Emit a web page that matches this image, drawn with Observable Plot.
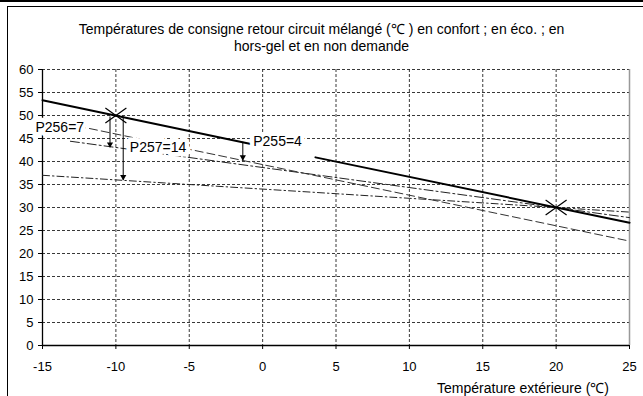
<!DOCTYPE html>
<html><head><meta charset="utf-8">
<script src="https://cdn.jsdelivr.net/npm/d3@7"></script>
<script src="https://cdn.jsdelivr.net/npm/@observablehq/plot@0.6"></script>
<style>
body{margin:0;background:#fff;}
#wrap{position:relative;width:643px;height:396px;overflow:hidden;font-family:"Liberation Sans",Arial,sans-serif;color:#000;}
#topline{position:absolute;left:0;top:0;width:643px;height:0;border-top:2px solid #000;z-index:5;}
#frame{position:absolute;left:7px;top:6px;width:660px;height:420px;border-left:1.5px solid #000;border-top:1px solid #000;z-index:5;}
#title{position:absolute;left:0;top:21px;width:643px;text-align:center;font-size:14px;line-height:17px;}
#chart{position:absolute;left:0;top:55px;}
#xlabel{position:absolute;right:34px;top:380px;font-size:14px;line-height:16px;}
</style>
</head><body>
<div id="wrap">
  <div id="topline"></div>
  <div id="title">Températures de consigne retour circuit mélangé (℃ ) en confort ; en éco. ; en<br>hors-gel et en non demande</div>
  <div id="chart"></div>
  <div id="xlabel">Température extérieure (℃)</div>
  <div id="frame"></div>
</div>
<script>
// Tick values
const xTicks = [-15, -10, -5, 0, 5, 10, 15, 20, 25];
const yTicks = [0, 5, 10, 15, 20, 25, 30, 35, 40, 45, 50, 55, 60];

// Confort curve (solid), two visible segments
const confortSeg = [0, 0, 1, 1];
const confortX = [-15, -0.8, 3.6, 25];
const confortY = [53.3, 43.8, 40.9, 26.7];

// Confort - P255 (dashed)
const reduitX = [-15, 25];
const reduitY = [49.3, 22.7];

// Eco (dash-dot)
const ecoX = [-13.1, 25];
const ecoY = [44.4, 27.8];

// Hors-gel (dash-dot)
const horsGelX = [-15, 25];
const horsGelY = [37, 29];

// Reference points (crosses)
const pointX = [-10, 20];
const pointY = [50, 30];

// Arrows
const arrowX = [-10.4, -9.5, -1.35];
const arrowY1 = [49.8, 49.8, 44.3];
const arrowY2 = [43.1, 36.0, 40.3];

// Labels
const labelText = ["P256=7", "P257=14", "P255=4"];
const labelX = [-15.48, -9.05, -0.64];
const labelY = [47.4, 42.98, 44.41];

const confort = confortX.map((x, i) => ({x, y: confortY[i], s: confortSeg[i]}));
const reduit = reduitX.map((x, i) => ({x, y: reduitY[i]}));
const eco = ecoX.map((x, i) => ({x, y: ecoY[i]}));
const horsGel = horsGelX.map((x, i) => ({x, y: horsGelY[i]}));
const points = pointX.map((x, i) => ({x, y: pointY[i]}));
const arrows = arrowX.map((x, i) => ({x, y1: arrowY1[i], y2: arrowY2[i]}));
const labels = labelText.map((t, i) => ({t, x: labelX[i], y: labelY[i]}));

const wideX = {
  draw(ctx, size) {
    const r = Math.sqrt(size / Math.PI);
    const h = r * 0.72;
    ctx.moveTo(-r, -h); ctx.lineTo(r, h);
    ctx.moveTo(-r, h); ctx.lineTo(r, -h);
  }
};

const gridStyle = {stroke: "#222", strokeOpacity: 1, strokeWidth: 0.9, strokeDasharray: "3,2"};
const fmt = d => String(d);

const chart = Plot.plot({
  width: 643,
  height: 321,
  marginLeft: 42,
  marginRight: 14,
  marginTop: 14,
  marginBottom: 31,
  style: {fontFamily: "Liberation Sans, Arial, sans-serif", fontSize: "13px", background: "transparent", color: "#000"},
  x: {domain: [-15, 25]},
  y: {domain: [0, 60]},
  marks: [
    Plot.gridY(yTicks.filter(v => v > 0), gridStyle),
    Plot.gridX(xTicks.filter(v => v > -15 && v < 25), gridStyle),
    Plot.ruleX([25], {stroke: "#999", strokeWidth: 1.5}),
    Plot.ruleX([-15], {stroke: "#000", strokeWidth: 1.3}),
    Plot.ruleY([0], {stroke: "#000", strokeWidth: 1.3}),
    Plot.line(horsGel, {x: "x", y: "y", stroke: "#222", strokeWidth: 1, strokeDasharray: "7,3,1.5,3"}),
    Plot.line(eco, {x: "x", y: "y", stroke: "#222", strokeWidth: 1, strokeDasharray: "9,3,2,3"}),
    Plot.line(reduit, {x: "x", y: "y", stroke: "#333", strokeWidth: 1, strokeDasharray: "8,4"}),
    Plot.line(confort, {x: "x", y: "y", z: "s", stroke: "#000", strokeWidth: 2}),
    Plot.text(labels, {x: "x", y: "y", text: "t", textAnchor: "start", lineAnchor: "middle",
      fontSize: 14, fill: "#000", stroke: "white", strokeWidth: 9, paintOrder: "stroke", strokeLinejoin: "round"}),
    Plot.axisY(yTicks, {tickSize: 4, tickPadding: 5, fontSize: 13, label: null, stroke: "#000", tickFormat: fmt}),
    Plot.axisX(xTicks, {tickSize: 4, tickPadding: 12, fontSize: 13, label: null, stroke: "#000", tickFormat: fmt}),
    Plot.link(arrows, {x1: "x", x2: "x", y1: "y1", y2: "y2", stroke: "#000", strokeWidth: 1}),
    Plot.dot(arrows, {x: "x", y: "y2", symbol: "triangle", rotate: 180, r: 2.3, fill: "#000", stroke: "none", dy: -3}),
    Plot.dot(points, {x: "x", y: "y", symbol: wideX, r: 10.5, stroke: "#000", strokeWidth: 1.2, fill: "none"})
  ]
});
document.getElementById("chart").appendChild(chart);
</script>
</body></html>
